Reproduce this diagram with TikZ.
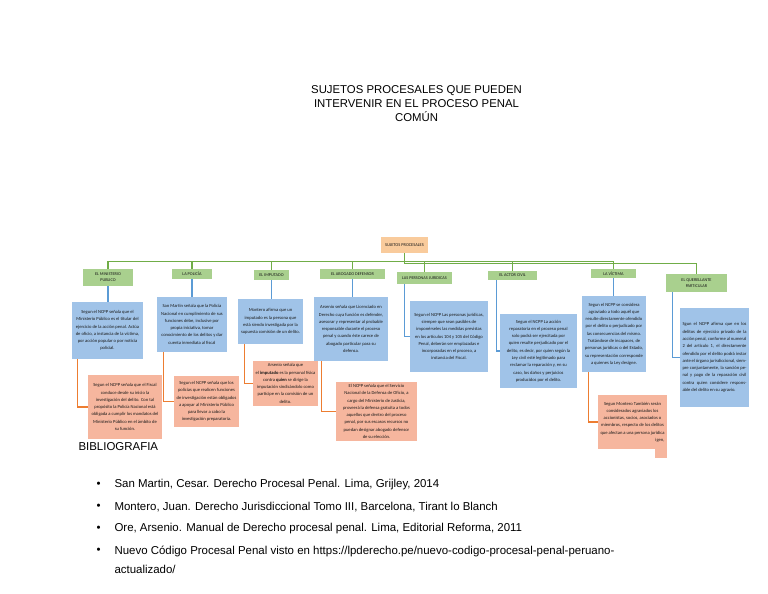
\documentclass[tikz,border=0pt]{standalone}
\usepackage{fontspec}
\setmainfont{Liberation Sans}
\newfontfamily\boxfont{Carlito}
\usepackage{tikz}
\usetikzlibrary{positioning}

\definecolor{rootcol}{RGB}{249,203,156}
\definecolor{headcol}{RGB}{169,208,142}
\definecolor{infocol}{RGB}{160,195,232}
\definecolor{notecol}{RGB}{246,182,158}
\definecolor{glinecol}{RGB}{112,173,71}
\definecolor{blinecol}{RGB}{91,155,213}
\definecolor{olinecol}{RGB}{237,125,49}

\tikzset{
  box/.style={inner sep=1pt, align=center, text=black!90,
    font=\boxfont\fontsize{4.6}{7.3}\selectfont},
  rootbox/.style={box, fill=rootcol, font=\boxfont\fontsize{4.4}{6}\selectfont},
  headbox/.style={box, fill=headcol, font=\boxfont\fontsize{4.3}{6}\selectfont},
  infobox/.style={box, fill=infocol},
  notebox/.style={box, fill=notecol},
  glink/.style={draw=glinecol, line width=1.1pt},
  blink/.style={draw=blinecol, line width=1.1pt},
  olink/.style={draw=olinecol, line width=1.1pt},
  titletext/.style={align=center, font=\fontsize{11.4}{14}\selectfont},
  bibtext/.style={anchor=west, font=\fontsize{11.5}{19}\selectfont}
}

\begin{document}
\begin{tikzpicture}[x=1bp,y=-1bp]
\fill[white] (0,0) rectangle (768,594);
\useasboundingbox (0,0) rectangle (768,594);

\node[titletext] (ttl) at (416.5,104) {SUJETOS PROCESALES QUE PUEDEN\\INTERVENIR EN EL PROCESO PENAL\\COMÚN};

% raiz
\node[rootbox, minimum width=47bp, minimum height=16bp] (sp) at (404.5,245) {SUJETOS PROCESALES};

% sujetos
\node[headbox, minimum width=50bp, minimum height=17bp] (mp) at (108,277.5) {EL MINISTERIO\\PUBLICO};
\node[headbox, minimum width=40bp, minimum height=10bp] (pol) at (192,274) {LA POLICÍA};
\node[headbox, minimum width=35bp, minimum height=10bp] (imp) at (271.5,275) {EL IMPUTADO};
\node[headbox, minimum width=65bp, minimum height=10bp] (abo) at (352.5,274) {EL ABOGADO DEFENSOR};
\node[headbox, minimum width=55bp, minimum height=12bp] (pj) at (424.5,278) {LAS PERSONAS JURIDICAS};
\node[headbox, minimum width=49bp, minimum height=9bp] (ac) at (512.5,275.5) {EL ACTOR CIVIL};
\node[headbox, minimum width=45bp, minimum height=9bp] (vic) at (613.5,273.5) {LA VÍCTIMA};
\node[headbox, minimum width=61bp, minimum height=18bp] (qp) at (696.5,283) {EL QUERELLANTE\\PARTICULAR};

% definiciones
\node[infobox, minimum width=71bp, minimum height=57bp] (mpb) at (107.5,330.5) {Segun el NCPP señala que el\\Ministerio Público es el titular del\\ejercicio de la acción penal. Actúa\\de oficio, a instancia de la víctima,\\por acción popular o por noticia\\policial.};
\node[infobox, minimum width=70bp, minimum height=55bp] (polb) at (192,324.5) {San Martin señala que la Policía\\Nacional en cumplimiento de sus\\funciones debe, inclusive por\\propia iniciativa, tomar\\conocimiento de los delitos y dar\\cuenta inmediata al fiscal};
\node[infobox, minimum width=65bp, minimum height=45bp] (impb) at (270.5,321.5) {Montero afirma que un\\imputado es la persona que\\está siendo investigada por la\\supuesta comisión de un delito.};
\node[infobox, minimum width=74bp, minimum height=64bp] (abob) at (351,329) {Arsenio señala que Licenciado en\\Derecho cuya función es defender,\\asesorar y representar al probable\\responsable durante el proceso\\penal y cuando éste carece de\\abogado particular para su\\defensa.};
\node[infobox, minimum width=78bp, minimum height=71bp] (pjb) at (449,336.5) {Segun el NCPP Las personas jurídicas,\\siempre que sean pasibles de\\imponérseles las medidas previstas\\en los artículos 104 y 105 del Código\\Penal, deberán ser emplazadas e\\incorporadas en el proceso, a\\instancia del Fiscal.};
\node[infobox, minimum width=77bp, minimum height=74bp] (acb) at (538.5,351) {Segun el NCPP La acción\\reparatoria en el proceso penal\\solo podrá ser ejercitada por\\quien resulte perjudicado por el\\delito, es decir, por quien según la\\Ley civil esté legitimado para\\reclamar la reparación y, en su\\caso, los daños y perjuicios\\producidos por el delito.};
\node[infobox, minimum width=64bp, minimum height=76bp] (vicb) at (614,334) {Segun el NCPP se considera\\agraviado a todo aquél que\\resulte directamente ofendido\\por el delito o perjudicado por\\las consecuencias del mismo.\\Tratándose de incapaces, de\\personas jurídicas o del Estado,\\su representación corresponde\\a quienes la Ley designe.};
\node[infobox, text width=64bp, align=justify, minimum height=99bp, inner sep=2.5pt] (qpb) at (714.5,357.5) {Sgun el NCPP afirma que en los delitos de ejercicio privado de la acción penal, conforme al numeral 2 del artículo 1, el directamente ofendido por el delito podrá instar ante el órgano jurisdiccional, siempre conjuntamente, la sanción penal y pago de la reparación civil contra quien considere responsable del delito en su agravio.};

% notas
\node[notebox, minimum width=74bp, minimum height=64bp] (mps) at (125,407) {Segun el NCPP señala que el Fiscal\\conduce desde su inicio la\\investigación del delito. Con tal\\propósito la Policía Nacional está\\obligada a cumplir los mandatos del\\Ministerio Público en el ámbito de\\su función.};
\node[notebox, minimum width=65bp, minimum height=51bp] (pols) at (206.5,401.5) {Segun el NCPP señala que los\\policías que realicen funciones\\de investigación están obligados\\a apoyar al Ministerio Público\\para llevar a cabo la\\investigación preparatoria.};
\node[notebox, minimum width=65bp, minimum height=45bp] (imps) at (285.5,383.5) {Arsenio señala que\\el \textbf{imputado} es la personal física\\contra \textbf{quien} se dirige la\\imputación sindicándolo como\\partícipe en la comisión de un\\delito.};
\node[notebox, minimum width=81bp, minimum height=59bp] (abos) at (376.5,411.5) {El NCPP señala que el Servicio\\Nacional de la Defensa de Oficio, a\\cargo del Ministerio de Justicia,\\proveerá la defensa gratuita a todos\\aquellos que dentro del proceso\\penal, por sus escasos recursos no\\puedan designar abogado defensor\\de su elección.};
\node[notebox, minimum width=69bp, minimum height=54bp] (vics) at (632.5,422) {Segun Montero También serán\\considerados agraviados los\\accionistas, socios, asociados o\\miembros, respecto de los delitos\\que afectan a una persona jurídica\\\hfill igen,};
\fill[notecol] (655,449) rectangle (667,458);

% conectores
\draw[glink] (sp.south) -- ++(0,8) -| (mp.north);
\draw[glink] (sp.south) -- ++(0,8) -| (pol.north);
\draw[glink] (sp.south) -- ++(0,8) -| (imp.north);
\draw[glink] (sp.south) -- ++(0,8) -| (abo.north);
\draw[glink] (sp.south) -- ++(0,8) -| (pj.north);
\draw[glink] (sp.south) -- ++(0,8) -| (ac.north);
\draw[glink] (sp.south) -- ++(0,8) -| (vic.north);
\draw[glink] (sp.south) -- ++(0,10.5) -| (qp.north);

\draw[blink] (mp.south) -- (mp.south |- mpb.north);
\draw[blink] (pol.south) -- (pol.south |- polb.north);
\draw[blink] (imp.south) -- (imp.south |- impb.north);
\draw[blink] (abo.south) -- (abo.south |- abob.north);
\draw[blink] ([xshift=8pt]pj.south west) |- (pjb.west);
\draw[blink] ([xshift=9pt]ac.south west) |- (acb.west);
\draw[blink] (vic.south) -- (vic.south |- vicb.north);
\draw[blink] ([xshift=7pt]qp.south west) |- (qpb.west);

\draw[olink] ([xshift=6pt]mpb.south west) |- (mps.west);
\draw[olink] ([xshift=7pt]polb.south west) |- (pols.west);
\draw[olink] ([xshift=7pt]impb.south west) |- (imps.west);
\draw[olink] ([xshift=8pt]abob.south west) |- (abos.west);
\draw[olink] ([xshift=7pt]vicb.south west) |- (vics.west);

% bibliografia
\node[anchor=west, font=\fontsize{11.5}{14}\selectfont] (bib) at (75,447) {BIBLIOGRAFIA};
\node[bibtext] (bt1) at (111,485) {San Martin, Cesar. Derecho Procesal Penal. Lima, Grijley, 2014};
\node[bibtext] (bt2) at (111,507) {Montero, Juan. Derecho Jurisdiccional Tomo III, Barcelona, Tirant lo Blanch};
\node[bibtext] (bt3) at (111,529) {Ore, Arsenio. Manual de Derecho procesal penal. Lima, Editorial Reforma, 2011};
\node[bibtext, anchor=north west, align=left] (bt4) at (111,542.5) {Nuevo Código Procesal Penal visto en https://lpderecho.pe/nuevo-codigo-procesal-penal-peruano-\\actualizado/};
\node[bibtext] (bu1) at (93,485) {\textbullet};
\node[bibtext] (bu2) at (93,507) {\textbullet};
\node[bibtext] (bu3) at (93,529) {\textbullet};
\node[bibtext] (bu4) at (93,551) {\textbullet};
\end{tikzpicture}
\end{document}
